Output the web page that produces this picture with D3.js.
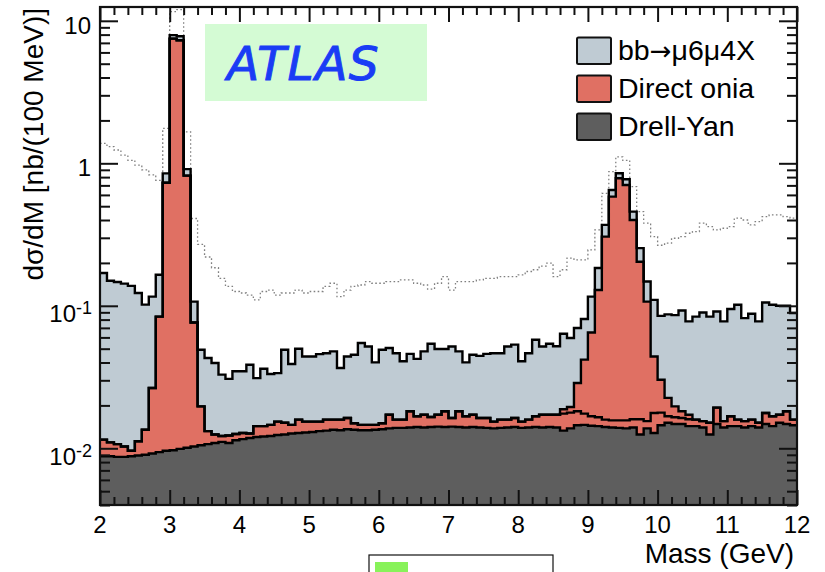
<!DOCTYPE html>
<html><head><meta charset="utf-8">
<script src="https://cdn.jsdelivr.net/npm/d3@7"></script>
<style>
body{margin:0;background:#fff}
svg{display:block}
text{font-family:"Liberation Sans",Arial,Helvetica,sans-serif;fill:#000}
</style>
</head><body>
<svg id="c" width="825" height="572"></svg>
<script>
// ---------------- data ----------------
const binWidth = 0.1; // GeV
const binLow = d3.range(100).map(i => +(2 + i * binWidth).toFixed(1)); // bin lower edges, 2.0 .. 11.9 GeV
const xTickValues = [2, 3, 4, 5, 6, 7, 8, 9, 10, 11, 12];
const yTickValues = [0.01, 0.1, 1, 10];
const legendLabels = [["bb", "\u2192", "\u03bc6\u03bc4X"], ["Direct onia"], ["Drell-Yan"]];

// nb / (100 MeV), per bin
const drellYan = [
 0.0088,0.0088,0.0087,0.0087,0.0088,0.0089,0.0090,0.0092,0.0094,0.0096,
 0.0097,0.0099,0.0101,0.0103,0.0105,0.0107,0.0109,0.0111,0.0109,0.0114,
 0.0116,0.0118,0.0120,0.0121,0.0122,0.0124,0.0125,0.0127,0.0128,0.0129,
 0.0130,0.0132,0.0133,0.0135,0.0134,0.0136,0.0135,0.0134,0.0134,0.0135,
 0.0136,0.0138,0.0139,0.0139,0.0140,0.0141,0.0140,0.0141,0.0142,0.0141,
 0.0142,0.0141,0.0140,0.0141,0.0140,0.0139,0.0138,0.0139,0.0140,0.0141,
 0.0139,0.0140,0.0141,0.0140,0.0141,0.0140,0.0133,0.0138,0.0145,0.0146,
 0.0144,0.0143,0.0141,0.0140,0.0139,0.0138,0.0140,0.0125,0.0138,0.0128,
 0.0145,0.0151,0.0148,0.0148,0.0143,0.0143,0.0140,0.0125,0.0148,0.0140,
 0.0143,0.0143,0.0140,0.0143,0.0140,0.0148,0.0143,0.0151,0.0148,0.0145];

const directOnia = [
 0.0027,0.0022,0.0020,0.0016,0.0008,0.0023,0.0045,0.0173,0.0746,0.7204,
 7.49,7.29,0.81,0.0661,0.0092,0.0025,0.0016,0.0011,0.0014,0.0012,
 0.0012,0.0009,0.0023,0.0022,0.0024,0.0030,0.0026,0.0019,0.0031,0.0025,
 0.0024,0.0022,0.0026,0.0024,0.0025,0.0027,0.0015,0.0012,0.0012,0.0011,
 0.0014,0.0034,0.0020,0.0020,0.0042,0.0027,0.0032,0.0025,0.0030,0.0041,
 0.0021,0.0041,0.0028,0.0031,0.0023,0.0024,0.0016,0.0020,0.0019,0.0022,
 0.0015,0.0019,0.0027,0.0032,0.0031,0.0032,0.0042,0.0040,0.0037,0.0029,
 0.0024,0.0022,0.0018,0.0017,0.0018,0.0019,0.0020,0.0035,0.0017,0.0049,
 0.0033,0.0017,0.0017,0.0015,0.0017,0.0016,0.0015,0.0026,0.0045,0.0015,
 0.0025,0.0016,0.0015,0.0016,0.0011,0.0029,0.0025,0.0021,0.0034,0.0014];

// Upsilon states (same "Direct onia" sample, drawn as its own stacked histogram)
const directOniaUpsilon = [
 0,0,0,0,0,0,0,0,0,0, 0,0,0,0,0,0,0,0,0,0,
 0,0,0,0,0,0,0,0,0,0, 0,0,0,0,0,0,0,0,0,0,
 0,0,0,0,0,0,0,0,0,0, 0,0,0,0,0,0,0,0,0,0,
 0,0,0,0,0,0,0.0013,0.0017,0.0105,0.0244,
 0.0482,0.1125,0.2901,0.5683,0.7693,0.6893,0.384,0.188,0.0915,0.0264,
 0.0125,0.0058,0.0032,0.0019,0.0012,0,0,0,0,0,
 0,0,0,0,0,0,0,0,0,0];

const bbMuMu = [
 0.1585,0.139,0.1363,0.1327,0.1284,0.1118,0.0885,0.0895,0.081,0.12,
 0.43,0.50,0.09,0.0306,0.0295,0.0298,0.0272,0.0207,0.0184,0.0221,
 0.0219,0.0259,0.0168,0.0219,0.0186,0.0183,0.0341,0.0244,0.0340,0.0287,
 0.0287,0.0304,0.0306,0.0320,0.0207,0.0278,0.0303,0.0402,0.0372,0.0255,
 0.0342,0.0334,0.0306,0.0249,0.0278,0.0256,0.0307,0.0375,0.0326,0.0316,
 0.0355,0.0297,0.0233,0.0281,0.0282,0.0297,0.0311,0.0306,0.0359,0.0371,
 0.0254,0.0306,0.0410,0.0346,0.0369,0.0348,0.0448,0.0399,0.0411,0.0388,
 0.051,0.055,0.064,0.066,0.066,0.068,0.058,0.050,0.041,0.0659,
 0.0547,0.0644,0.0663,0.0745,0.0605,0.0681,0.0743,0.0689,0.072,0.0622,
 0.0782,0.0857,0.0665,0.0721,0.0626,0.0878,0.0848,0.0828,0.0818,0.0731];

// dotted histogram (total before selection)
const dottedTotal = [
 1.38,1.31,1.24,1.14,1.05,0.97,0.90,0.83,0.76,1.76,
 11.6,12.0,1.66,0.41,0.27,0.22,0.185,0.156,0.137,0.126,
 0.123,0.119,0.110,0.126,0.129,0.119,0.123,0.123,0.129,0.123,
 0.126,0.126,0.137,0.144,0.116,0.129,0.137,0.140,0.148,0.144,
 0.144,0.148,0.148,0.152,0.152,0.144,0.140,0.131,0.144,0.160,
 0.129,0.148,0.148,0.148,0.152,0.156,0.156,0.160,0.160,0.160,
 0.165,0.174,0.179,0.190,0.199,0.160,0.179,0.216,0.210,0.210,
 0.247,0.341,0.616,0.873,1.11,1.05,0.686,0.458,0.38,0.306,
 0.266,0.275,0.298,0.306,0.323,0.332,0.38,0.36,0.341,0.35,
 0.36,0.412,0.40,0.37,0.39,0.422,0.434,0.434,0.422,0.412];

// ---------------- chart ----------------
const svg = d3.select("#c");
const L = 100, R = 797, T = 7, B = 505;
const x = d3.scaleLinear().domain([2, 12]).range([L, R]);
const y = d3.scaleLog().domain([0.004, 12.5]).range([B, T]);

const colors = {dy: "#5e5e5e", onia: "#e07063", ups: "#e07063", bb: "#bfcbd3"};

svg.append("defs").append("clipPath").attr("id", "clip")
  .append("rect").attr("x", L).attr("y", T).attr("width", R - L).attr("height", B - T);

const plot = svg.append("g").attr("clip-path", "url(#clip)");

const rows = binLow.map((m, i) => ({m, dy: drellYan[i], onia: directOnia[i], ups: directOniaUpsilon[i], bb: bbMuMu[i]}));
const layers = d3.stack().keys(["dy", "onia", "ups", "bb"])(rows);

function stepPoints(layer) {
  const p = layer.map((d, i) => ({x: binLow[i], y0: d[0], y1: d[1]}));
  const last = p[p.length - 1];
  p.push({x: last.x + binWidth, y0: last.y0, y1: last.y1});
  return p;
}
const yc = v => y(Math.max(v, 0.004));

const area = d3.area().curve(d3.curveStepAfter)
  .x(d => x(d.x)).y0(d => yc(d.y0)).y1(d => yc(d.y1));
const line = d3.line().curve(d3.curveStepAfter)
  .x(d => x(d.x)).y(d => yc(d.y1));

layers.forEach(l => {
  plot.append("path").datum(stepPoints(l)).attr("d", area)
    .attr("fill", colors[l.key]).attr("stroke", colors[l.key]).attr("stroke-width", 0.5);
});
// dotted total
const dotPts = dottedTotal.map((v, i) => ({x: binLow[i], y1: v}));
dotPts.push({x: 12, y1: dottedTotal[dottedTotal.length - 1]});
plot.append("path").datum(dotPts).attr("d", line)
  .attr("fill", "none").attr("stroke", "#808080").attr("stroke-width", 1.3)
  .attr("stroke-dasharray", "1.6,2.4");

// outlines, top layer first so lower outlines sit on top
layers.slice().reverse().forEach(l => {
  plot.append("path").datum(stepPoints(l)).attr("d", line)
    .attr("fill", "none").attr("stroke", "#000").attr("stroke-width", 2.4)
    .attr("stroke-linejoin", "miter");
});

// ---------------- axes ----------------
const xMinor = d3.range(2, 12.001, 0.2).filter(v => Math.abs(v - Math.round(v)) > 1e-6);
const yMinor = y.ticks().filter(v => !yTickValues.some(t => Math.abs(t - v) / t < 1e-6));

function addAxis(axis, tr) {
  const g = svg.append("g").attr("transform", tr).call(axis);
  g.select(".domain").remove();
  g.selectAll(".tick line").attr("stroke", "#111").attr("stroke-width", 2);
  g.selectAll(".tick text").remove();
  return g;
}
addAxis(d3.axisBottom(x).tickValues(xTickValues).tickSize(-15), `translate(0,${B})`);
addAxis(d3.axisBottom(x).tickValues(xMinor).tickSize(-8), `translate(0,${B})`);
addAxis(d3.axisTop(x).tickValues(xTickValues).tickSize(-15), `translate(0,${T})`);
addAxis(d3.axisTop(x).tickValues(xMinor).tickSize(-8), `translate(0,${T})`);
addAxis(d3.axisLeft(y).tickValues(yTickValues).tickSize(-18), `translate(${L},0)`);
addAxis(d3.axisLeft(y).tickValues(yMinor).tickSize(-10), `translate(${L},0)`);
addAxis(d3.axisRight(y).tickValues(yTickValues).tickSize(-18), `translate(${R},0)`);
addAxis(d3.axisRight(y).tickValues(yMinor).tickSize(-10), `translate(${R},0)`);

// frame
svg.append("rect").attr("x", L).attr("y", T).attr("width", R - L).attr("height", B - T)
  .attr("fill", "none").attr("stroke", "#111").attr("stroke-width", 2.2);

// x tick labels
svg.append("g").selectAll("text").data(xTickValues).join("text")
  .attr("x", d => x(d)).attr("y", 533).attr("text-anchor", "middle")
  .style("font-size", "24px").text(d => d);

// y tick labels
yTickValues.forEach(v => {
  const e = Math.round(Math.log10(v));
  const t = svg.append("text").attr("text-anchor", "end").style("font-size", "24px");
  if (e >= 0) {
    t.attr("x", 91).attr("y", y(v) + 13).text(e === 0 ? "1" : "10");
  } else {
    t.attr("x", 92).attr("y", y(v) + 16.6);
    t.append("tspan").text("10");
    t.append("tspan").attr("dy", -8.3).style("font-size", "18px").text(String(e));
  }
});

// axis titles
svg.append("text").attr("x", 794).attr("y", 563).attr("text-anchor", "end")
  .style("font-size", "28px").text("Mass (GeV)");
svg.append("text").attr("transform", "translate(43,8) rotate(-90)").attr("text-anchor", "end")
  .style("font-size", "28px").text("d\u03c3/dM [nb/(100 MeV)]");

// ATLAS label
svg.append("rect").attr("x", 205).attr("y", 24).attr("width", 222).attr("height", 77).attr("fill", "#d4fbd4");
svg.append("text").attr("x", 227).attr("y", 80)
  .style("font-family", "'DejaVu Sans',sans-serif").style("font-style", "oblique")
  .style("font-size", "47px").style("letter-spacing", "1.5px").style("fill", "#1a3cf5")
  .style("stroke", "#1a3cf5").style("stroke-width", "1px")
  .text("ATLAS");

// legend
const legendFill = [colors.bb, colors.onia, colors.dy];
const legendY = [37.5, 75.5, 113.5];
legendLabels.forEach((parts, i) => {
  svg.append("rect").attr("x", 577).attr("y", legendY[i]).attr("width", 34).attr("height", 26.5)
    .attr("rx", 1.5).attr("fill", legendFill[i]).attr("stroke", "#111").attr("stroke-width", 2);
  const t = svg.append("text").attr("x", 618).attr("y", legendY[i] + 22.5).style("font-size", "28.5px");
  parts.forEach(p => {
    const s = t.append("tspan").text(p);
    if (p === "\u2192") s.style("font-family", "'DejaVu Sans',sans-serif").style("font-size", "26px");
  });
});

// partial box at the bottom edge
svg.append("rect").attr("x", 369).attr("y", 555).attr("width", 184).attr("height", 30)
  .attr("fill", "#fff").attr("stroke", "#111").attr("stroke-width", 1.2);
svg.append("rect").attr("x", 375).attr("y", 562).attr("width", 33).attr("height", 20).attr("fill", "#88f25a");
</script>
</body></html>
